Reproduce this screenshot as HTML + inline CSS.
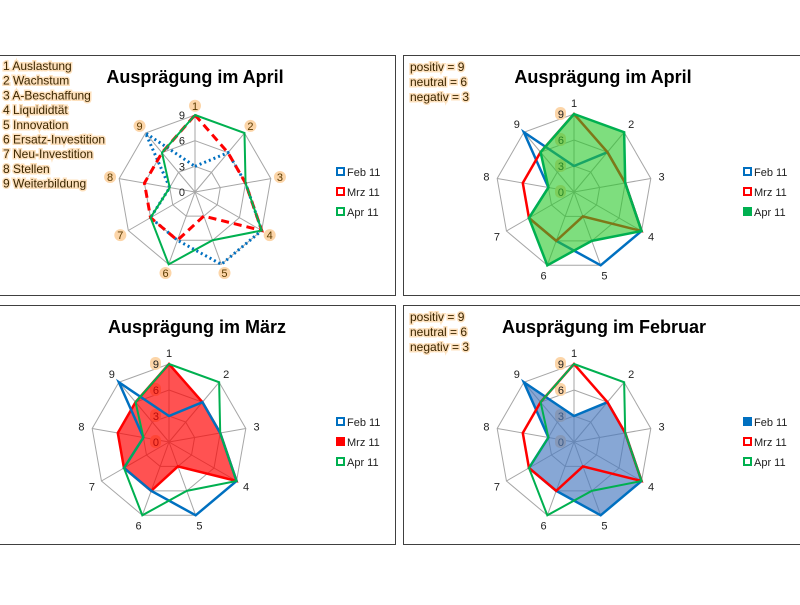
<!DOCTYPE html>
<html><head><meta charset="utf-8">
<style>
body{margin:0;width:800px;height:600px;background:#fff;overflow:hidden;font-family:"Liberation Sans",sans-serif}
svg text{font-family:"Liberation Sans",sans-serif}
</style></head><body>
<svg id="s" width="800" height="600"></svg>
<script>
const categories=["1","2","3","4","5","6","7","8","9"];
const feb=[3,6,6,9,9,6,6,3,9];
const mrz=[9,6,6,9,3,6,6,6,6];
const apr=[9,9,6,9,6,9,6,3,6];
const ticks=[0,3,6,9];
const seriesNames=["Feb 11","Mrz 11","Apr 11"];
const listItems=["1 Auslastung","2 Wachstum","3 A-Beschaffung","4 Liquididtät","5 Innovation","6 Ersatz-Investition","7 Neu-Investition","8 Stellen","9 Weiterbildung"];
const keyItems=["positiv = 9","neutral = 6","negativ = 3"];
const NS="http://www.w3.org/2000/svg";
const svg=document.getElementById('s');
function mk(t,a,p){const e=document.createElementNS(NS,t);for(const k in a)e.setAttribute(k,a[k]);(p||svg).appendChild(e);return e;}
const maxV=9;
const panels=[
 {box:[-2,55,397,240],cx:195,cy:192,R:77,title:"Ausprägung im April",tx:195,fill:-1,first:true,lx:345},
 {box:[403,55,400,240],cx:574,cy:192,R:78,title:"Ausprägung im April",tx:603,fill:2,lx:752},
 {box:[-2,305,397,239],cx:169,cy:442,R:78,title:"Ausprägung im März",tx:197,fill:1,lx:345},
 {box:[403,305,400,239],cx:574,cy:442,R:78,title:"Ausprägung im Februar",tx:604,fill:0,lx:752}
];
const colors=["#0070c0","#ff0000","#00b050"];
const fills=["rgba(70,120,190,0.65)","rgba(255,0,0,0.68)","rgba(40,200,40,0.6)"];
const data=[feb,mrz,apr];
panels.forEach((P,pi)=>{
 const g=mk('g',{});
 
 
 const b=mk('rect',{x:P.box[0]+0.5,y:P.box[1]+0.5,width:P.box[2],height:P.box[3],fill:'#fff',stroke:'#404040','stroke-width':1},g);
 
 const n=categories.length;
 const ang=i=>(-90+360/n*i)*Math.PI/180;
 const pt=(i,v)=>[P.cx+Math.cos(ang(i))*v/maxV*P.R,P.cy+Math.sin(ang(i))*v/maxV*P.R];
 // grid
 ticks.slice(1).forEach(t=>{
  const r=mk('polygon',{points:categories.map((c,i)=>pt(i,t).join(',')).join(' '),fill:'none',stroke:'#a6a6a6','stroke-width':1},g);
  
 });
 categories.forEach((c,i)=>{
  const e=pt(i,maxV);
  const l=mk('line',{x1:P.cx,y1:P.cy,x2:e[0],y2:e[1],stroke:'#a6a6a6','stroke-width':1},g);
  
  const lp=pt(i,maxV*(P.first?1.12:1.14));
  if(P.first){mk('circle',{cx:lp[0],cy:lp[1],r:6,fill:'#fcd5a8'},g);}
  const t=mk('text',{x:lp[0],y:lp[1]+4,'text-anchor':'middle','font-size':11,fill:P.first?'#5a3a00':'#222'},g);
  t.textContent=c;
  
 });
 ticks.forEach(t=>{
  const p=pt(0,t);
  if(!P.first){mk('rect',{x:p[0]-19,y:p[1]-7,width:11,height:13,rx:5,fill:'#fcd5a8'},g);}
  const tt=mk('text',{x:p[0]-10,y:p[1]+4,'text-anchor':'end','font-size':11,fill:'#222'},g);
  tt.textContent=t;
  
 });
 const order=P.fill===2?[0,1,2]:P.fill===1?[1,0,2]:P.fill===0?[0,1,2]:[0,1,2];
 order.forEach(si=>{
  const pts=data[si].map((v,i)=>pt(i,v).join(',')).join(' ');
  let a;
  if(P.fill===si){
   a=mk('polygon',{points:pts,fill:fills[si],stroke:colors[si],'stroke-width':2.5,'stroke-linejoin':'miter'},g);
  }else{
   const at={points:pts,fill:'none',stroke:colors[si],'stroke-width':P.first?2.5:2.5};
   if(P.first&&si===0){at['stroke-dasharray']='2 3';at['stroke-width']=3;}
   if(P.first&&si===1){at['stroke-dasharray']='8 5';at['stroke-width']=3;}
   if(P.first&&si===2){at['stroke-width']=2;}
   if(!P.first&&si===2){at['stroke-width']=2;}
   a=mk('polygon',at,g);
  }
  
  
 });
 // title
 const ti=mk('text',{x:P.tx,y:P.box[1]+28,'text-anchor':'middle','font-size':18,'font-weight':'bold',fill:'#000'},g);
 ti.textContent=P.title;
 // legend
 seriesNames.forEach((s,si)=>{
  const y=P.cy-20+si*20;
  const sw=mk('rect',{x:P.lx-8,y:y-4,width:7,height:7,fill:P.fill===si?colors[si]:'#fff',stroke:colors[si],'stroke-width':2},g);
  
  const lt=mk('text',{x:P.lx+2,y:y+4,'font-size':11,fill:'#222'},g);
  lt.textContent=s;
 });
 // notes
 const items=P.first?listItems:keyItems;
 items.forEach((s,k)=>{
  const y=P.first?P.box[1]+15+k*14.7:P.box[1]+16+k*15;
  const nt=mk('text',{x:P.first?3:410,y:y,'font-size':12,fill:'#3b2600',style:'paint-order:stroke;stroke:#fde0bc;stroke-width:3px'},g);
  nt.textContent=s;
 });
});
</script>
</body></html>
